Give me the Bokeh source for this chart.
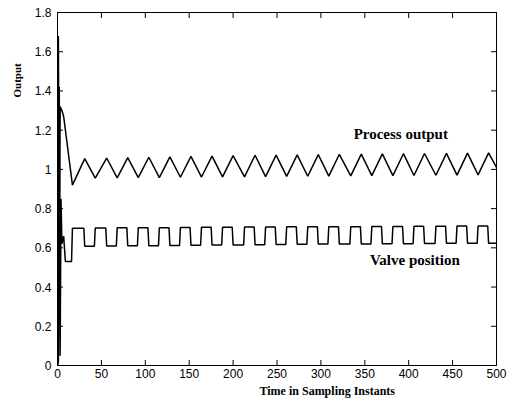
from bokeh.plotting import figure
from bokeh.models import Range1d, FixedTicker, LinearAxis, Label, Title
from bokeh.embed import file_html
from bokeh.resources import INLINE

# ---------------- data ----------------
# start-up transient of the process output
out_init_t = [0, 1, 2, 3, 5, 7]
out_init_v = [0.0, 1.68, 0.45, 1.32, 1.30, 1.27]
# oscillation of the process output (troughs and peaks)
trough_t = [17, 43, 68, 92, 116, 140, 164, 188, 213, 237, 261, 285, 309, 334, 358, 382, 406, 431, 455, 479]
trough_v = [0.92, 0.955, 0.957, 0.958, 0.958, 0.960, 0.961, 0.962, 0.962, 0.963,
            0.964, 0.965, 0.966, 0.967, 0.968, 0.968, 0.969, 0.970, 0.971, 0.972]
peak_t = [31, 56, 80, 104, 128, 152, 176, 200, 225, 249, 273, 297, 321, 346, 370, 394, 418, 443, 467, 491]
peak_v = [1.055, 1.058, 1.060, 1.062, 1.064, 1.066, 1.068, 1.070, 1.072, 1.073,
          1.074, 1.075, 1.077, 1.078, 1.079, 1.080, 1.081, 1.082, 1.083, 1.084]
out_end_t = [500]
out_end_v = [1.01]

# start-up transient of the valve position
valve_init_t = [0, 1, 2, 3, 4, 5, 7, 9, 15]
valve_init_v = [0.0, 0.02, 1.42, 0.05, 0.85, 0.62, 0.66, 0.53, 0.53]
# square-wave part of the valve position
valve_rise_t = [16, 42, 67, 91, 115, 139, 163, 187, 212, 236, 260, 284, 308, 333, 357, 381, 405, 430, 454, 478]
valve_fall_t = [30, 55, 79, 103, 127, 151, 175, 199, 224, 248, 272, 296, 320, 345, 369, 393, 417, 442, 466, 490]
valve_high = [0.700, 0.701, 0.702, 0.702, 0.703, 0.704, 0.705, 0.705, 0.706, 0.706,
              0.707, 0.707, 0.708, 0.708, 0.709, 0.709, 0.710, 0.710, 0.711, 0.711]
valve_low = [0.608, 0.609, 0.610, 0.611, 0.612, 0.613, 0.614, 0.615, 0.616, 0.617,
             0.618, 0.619, 0.619, 0.620, 0.621, 0.621, 0.622, 0.623, 0.623, 0.624]
valve_end_t = 500

x_ticks = [0, 50, 100, 150, 200, 250, 300, 350, 400, 450, 500]
x_tick_labels = ["0", "50", "100", "150", "200", "250", "300", "350", "400", "450", "500"]
y_ticks = [0, 0.2, 0.4, 0.6, 0.8, 1.0, 1.2, 1.4, 1.6, 1.8]
y_tick_labels = ["0", "0.2", "0.4", "0.6", "0.8", "1", "1.2", "1.4", "1.6", "1.8"]
X_MIN, X_MAX = 0, 500
Y_MIN, Y_MAX = 0, 1.8

# ---------------- build the polylines ----------------
out_x = list(out_init_t)
out_y = list(out_init_v)
for i in range(len(trough_t)):
    out_x.append(trough_t[i]); out_y.append(trough_v[i])
    out_x.append(peak_t[i]); out_y.append(peak_v[i])
out_x += out_end_t
out_y += out_end_v

vx = list(valve_init_t)
vy = list(valve_init_v)
for i in range(len(valve_rise_t)):
    vx.append(valve_rise_t[i]); vy.append(vy[-1])
    vx.append(valve_rise_t[i] + 1); vy.append(valve_high[i])
    vx.append(valve_fall_t[i]); vy.append(valve_high[i])
    vx.append(valve_fall_t[i] + 1); vy.append(valve_low[i])
vx.append(valve_end_t); vy.append(vy[-1])

# ---------------- figure ----------------
p = figure(width=518, height=398, output_backend="svg", toolbar_location=None,
           x_range=Range1d(X_MIN, X_MAX), y_range=Range1d(Y_MIN, Y_MAX),
           x_axis_location=None, y_axis_location=None,
           min_border_left=18, min_border_right=22, min_border_top=12, min_border_bottom=19)
p.background_fill_color = "white"
p.border_fill_color = "white"
p.outline_line_color = "black"
p.outline_line_width = 1
p.xgrid.visible = False
p.ygrid.visible = False

TICK_FONT = "Liberation Sans"

def style_axis(ax, ticks, labels, show_labels, standoff):
    ax.ticker = FixedTicker(ticks=ticks)
    if show_labels:
        ax.major_label_overrides = {t: l for t, l in zip(ticks, labels)}
    else:
        ax.major_label_overrides = {t: "" for t in ticks}
    ax.major_tick_in = 0
    ax.major_tick_out = 0
    ax.minor_tick_in = 0
    ax.minor_tick_out = 0
    ax.axis_line_color = "black"
    ax.major_label_text_font = TICK_FONT
    ax.major_label_text_font_size = "12px"
    ax.major_label_text_color = "black"
    ax.major_label_standoff = standoff

xb = LinearAxis(); style_axis(xb, x_ticks, x_tick_labels, True, 3)
yl = LinearAxis(); style_axis(yl, y_ticks, y_tick_labels, True, 6)
xt = LinearAxis(); style_axis(xt, x_ticks, x_tick_labels, False, 0)
yr = LinearAxis(); style_axis(yr, y_ticks, y_tick_labels, False, 0)
p.add_layout(xb, "below")
p.add_layout(yl, "left")
p.add_layout(xt, "above")
p.add_layout(yr, "right")

# inward tick marks on all four sides (half of each dash is clipped by the frame)
p.scatter(x_ticks, [Y_MIN] * len(x_ticks), marker="dash", angle=1.5708, size=11,
          line_color="black", line_width=1)
p.scatter(x_ticks, [Y_MAX] * len(x_ticks), marker="dash", angle=1.5708, size=11,
          line_color="black", line_width=1)
p.scatter([X_MIN] * len(y_ticks), y_ticks, marker="dash", size=11,
          line_color="black", line_width=1)
p.scatter([X_MAX] * len(y_ticks), y_ticks, marker="dash", size=11,
          line_color="black", line_width=1)

p.line(out_x, out_y, line_color="black", line_width=1.5)
p.line(vx, vy, line_color="black", line_width=1.5)

SERIF = "Liberation Serif"
p.add_layout(Label(x=391, y=1.18, text="Process output", text_font=SERIF,
                   text_font_size="15px", text_font_style="bold",
                   text_align="center", text_baseline="middle", text_color="black"))
p.add_layout(Label(x=407, y=0.537, text="Valve position", text_font=SERIF,
                   text_font_size="15px", text_font_style="bold",
                   text_align="center", text_baseline="middle", text_color="black"))

# axis titles
p.add_layout(Title(text="Time in Sampling Instants", text_font=SERIF,
                   text_font_size="12px", text_font_style="bold", align="left",
                   offset=202, standoff=2, text_color="black"), "below")
p.add_layout(Title(text="Output", text_font=SERIF,
                   text_font_size="11px", text_font_style="bold", align="left",
                   offset=268, standoff=17, text_color="black"), "left")

open("out.html", "w").write(file_html(p, INLINE))
